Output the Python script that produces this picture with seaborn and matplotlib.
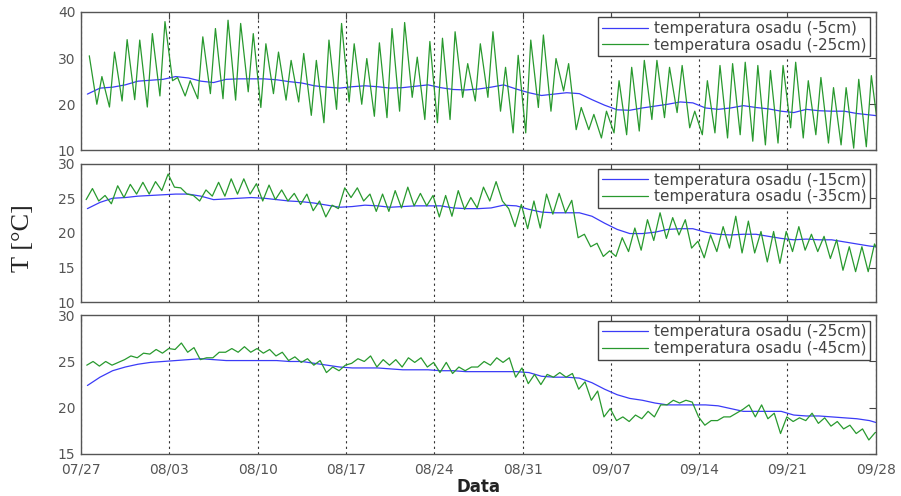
import numpy as np
import pandas as pd
import matplotlib
matplotlib.use("Agg")
import matplotlib.pyplot as plt
import matplotlib.dates as mdates
import seaborn as sns

nan = np.nan

# DANE (jedna wartosc na dobe; dzien 0 = 07/27)

start = pd.Timestamp("2009-07-27")
tick_labels = ["07/27", "08/03", "08/10", "08/17", "08/24",
               "08/31", "09/07", "09/14", "09/21", "09/28"]

labels_p1 = ["temperatura osadu (-5cm)", "temperatura osadu (-25cm)"]
labels_p2 = ["temperatura osadu (-15cm)", "temperatura osadu (-35cm)"]
labels_p3 = ["temperatura osadu (-25cm)", "temperatura osadu (-45cm)"]

# panel 1
p1_blue = [22.2, 23.5, 23.7, 24.2, 25.0, 25.2, 25.4,
           26.0, 25.7, 25.0, 24.7, 25.4, 25.5, 25.5,
           25.5, 25.3, 24.9, 24.6, 24.0, 23.7, 23.5,
           23.8, 24.0, 23.8, 23.5, 23.6, 23.9, 24.2,
           23.6, 23.2, 23.1, 23.3, 23.7, 24.2, 23.3,
           22.5, 21.9, 22.2, 22.5, 22.3, 21.0, 19.8,
           18.8, 18.7, 19.2, 19.6, 20.0, 20.5, 20.3,
           19.2, 18.9, 19.2, 19.7, 19.3, 19.0, 18.5,
           18.2, 18.9, 18.6, 18.5, 18.5, 18.0, 17.7,
           17.4]
p1_green_morning = [nan, 20.0, 19.4, 20.7, 21.0, 19.4, 21.8,
                    25.1, 21.8, 21.2, 22.3, 21.2, 20.9, 22.7,
                    19.3, 22.3, 20.9, 20.5, 17.6, 16.0, 18.9,
                    20.5, 20.0, 17.4, 17.1, 18.5, 21.5, 16.7,
                    16.0, 16.7, 21.5, 20.7, 21.5, 18.5, 13.8,
                    13.8, 19.3, 18.5, 22.9, 14.5, 14.5, 12.7,
                    13.8, 13.4, 14.2, 16.7, 17.1, 18.2, 14.9,
                    13.4, 13.8, 12.7, 13.4, 12.0, 11.2, 11.6,
                    14.9, 12.7, 13.4, 11.6, 11.2, 10.5, 10.8,
                    13.4]
p1_green_afternoon = [30.5, 26.0, 31.3, 34.0, 33.9, 35.3, 37.9,
                      25.8, 25.1, 34.6, 36.4, 38.2, 37.5, 35.3,
                      33.1, 31.3, 29.5, 31.0, 29.5, 33.9, 37.5,
                      33.1, 29.9, 33.3, 36.4, 37.7, 30.2, 33.6,
                      34.3, 35.7, 28.8, 33.1, 35.7, 28.0, 30.6,
                      33.9, 35.0, 29.9, 28.8, 19.3, 17.8, 18.5,
                      25.1, 28.0, 29.5, 29.5, 28.0, 28.4, 18.5,
                      25.1, 28.4, 28.8, 29.1, 28.4, 27.3, 28.4,
                      29.1, 25.1, 25.8, 23.6, 23.6, 25.4, 26.2,
                      nan]

# panel 2
p2_blue = [23.5, 24.4, 25.0, 25.1, 25.3, 25.4, 25.5,
           25.6, 25.6, 25.3, 24.8, 24.9, 25.0, 25.1,
           25.0, 24.8, 24.6, 24.5, 24.3, 24.0, 23.7,
           23.8, 24.0, 23.9, 23.7, 23.8, 23.9, 23.9,
           23.9, 23.6, 23.5, 23.5, 23.6, 24.0, 23.9,
           23.4, 23.0, 22.9, 22.9, 22.9, 22.4, 21.4,
           20.5, 19.9, 19.9, 20.1, 20.5, 20.6, 20.6,
           20.1, 19.8, 19.7, 19.8, 19.8, 19.5, 19.2,
           19.0, 19.1, 19.0, 19.0, 18.7, 18.4, 18.1,
           17.9]
p2_green_morning = [24.8, 24.6, 24.2, 25.1, 25.6, 25.6, 26.1,
                    26.6, 25.6, 24.6, 25.3, 25.3, 25.6, 25.6,
                    24.6, 24.8, 24.6, 24.1, 23.2, 22.3, 23.5,
                    25.1, 24.6, 23.1, 23.1, 23.6, 23.9, 23.9,
                    22.3, 22.4, 23.4, 23.6, 24.6, 24.6, 20.9,
                    20.6, 20.7, 22.7, 22.9, 19.3, 18.0, 16.6,
                    16.6, 17.3, 17.5, 18.9, 19.2, 19.7, 17.8,
                    16.4, 17.3, 17.8, 17.1, 17.1, 15.8, 15.6,
                    17.3, 17.5, 17.3, 16.3, 14.6, 14.4, 14.4,
                    16.6]
p2_green_afternoon = [26.4, 25.4, 26.8, 27.0, 27.3, 27.4, 28.5,
                      26.5, 25.4, 26.2, 27.3, 27.8, 27.8, 27.1,
                      26.9, 26.2, 25.7, 25.6, 24.6, 24.0, 26.5,
                      26.5, 25.6, 25.6, 26.1, 26.6, 25.7, 25.4,
                      25.4, 26.1, 25.1, 26.6, 27.4, 23.5, 24.1,
                      24.6, 25.6, 25.7, 24.7, 19.8, 18.5, 17.4,
                      19.3, 20.7, 21.9, 22.9, 22.2, 21.9, 18.8,
                      19.7, 20.9, 22.4, 21.7, 20.2, 20.2, 20.2,
                      20.9, 19.8, 19.5, 19.0, 18.0, 18.0, 18.4,
                      nan]

# panel 3
p3_blue = [22.4, 23.3, 24.0, 24.4, 24.7, 24.9, 25.0,
           25.1, 25.2, 25.3, 25.2, 25.1, 25.1, 25.1,
           25.1, 25.1, 25.0, 25.0, 24.8, 24.6, 24.4,
           24.3, 24.3, 24.3, 24.2, 24.1, 24.1, 24.1,
           24.0, 24.0, 23.9, 23.9, 23.9, 23.9, 23.9,
           23.8, 23.4, 23.3, 23.3, 23.2, 22.7, 22.0,
           21.4, 21.0, 20.8, 20.5, 20.3, 20.3, 20.3,
           20.3, 20.2, 19.9, 19.6, 19.6, 19.6, 19.6,
           19.2, 19.1, 19.1, 19.0, 18.9, 18.8, 18.6,
           18.2]
p3_green_morning = [24.6, 24.5, 24.6, 25.2, 25.4, 25.8, 25.9,
                    26.3, 26.0, 25.2, 25.4, 26.0, 26.0, 26.0,
                    25.9, 25.6, 25.1, 24.9, 24.6, 23.8, 24.0,
                    24.8, 25.0, 24.4, 24.6, 24.4, 24.9, 24.4,
                    23.8, 23.7, 24.0, 24.4, 24.6, 24.9, 23.3,
                    22.6, 22.5, 23.3, 23.3, 22.0, 20.8, 19.0,
                    18.6, 18.5, 18.8, 19.0, 20.3, 20.5, 20.6,
                    18.1, 18.6, 19.0, 19.8, 19.0, 18.8, 17.2,
                    18.5, 18.6, 18.3, 18.0, 17.7, 17.2, 16.5,
                    17.4]
p3_green_afternoon = [25.0, 25.0, 24.9, 25.6, 25.9, 26.3, 26.4,
                      27.0, 26.5, 25.4, 26.0, 26.4, 26.6, 26.4,
                      26.3, 26.0, 25.5, 25.3, 25.1, 24.4, 24.6,
                      25.3, 25.6, 25.2, 25.2, 25.4, 25.4, 24.9,
                      24.9, 24.4, 24.4, 25.0, 25.4, 25.4, 24.3,
                      23.6, 23.6, 23.8, 23.7, 22.8, 21.8, 19.9,
                      19.0, 19.2, 19.6, 20.3, 20.8, 20.8, 19.0,
                      18.6, 19.0, 19.4, 20.3, 20.3, 19.4, 19.0,
                      18.9, 19.4, 18.9, 18.5, 18.1, 17.7, 17.3,
                      nan]

# pora odczytu w ciagu doby (ulamek dnia)
blue_hour = 0.5
green_hours = [(0.25, 0.65), (0.40, 0.90), (0.45, 0.95)]

y_limits = [(10, 40), (10, 30), (15, 30)]
y_ticks = [[10, 20, 30, 40], [10, 15, 20, 25, 30], [15, 20, 25, 30]]


# RAMKA DANYCH

def seria(values, offset, label):
    days = np.arange(len(values)) + offset
    return pd.DataFrame({
        "czas": start + pd.to_timedelta(days, unit="D"),
        "temp": values,
        "seria": label,
    })


def panel_df(blue, morning, afternoon, hours, labels):
    green = pd.concat([seria(morning, hours[0], labels[1]),
                       seria(afternoon, hours[1], labels[1])])
    green = green.sort_values("czas")
    df = pd.concat([seria(blue, blue_hour, labels[0]), green])
    return df.dropna()


panele = [
    panel_df(p1_blue, p1_green_morning, p1_green_afternoon, green_hours[0], labels_p1),
    panel_df(p2_blue, p2_green_morning, p2_green_afternoon, green_hours[1], labels_p2),
    panel_df(p3_blue, p3_green_morning, p3_green_afternoon, green_hours[2], labels_p3),
]
etykiety = [labels_p1, labels_p2, labels_p3]


# WYKRES

sns.set_style("white")
plt.rcParams["font.family"] = ["DejaVu Sans"]

fig, axes = plt.subplots(3, 1, figsize=(9.01, 4.96), dpi=100, sharex=True)
fig.subplots_adjust(left=0.09, right=0.972, top=0.976, bottom=0.085, hspace=0.095)

ticks = [start + pd.Timedelta(days=7 * i) for i in range(len(tick_labels))]

for ax, df, labs, ylim, yt in zip(axes, panele, etykiety, y_limits, y_ticks):

    sns.lineplot(
        data=df, x="czas", y="temp", hue="seria",
        hue_order=labs,
        palette={labs[0]: "#3b3bf7", labs[1]: "#28992e"},
        estimator=None, sort=True, linewidth=0.9, ax=ax,
    )

    ax.set_xlim(start, start + pd.Timedelta(days=63))
    ax.set_ylim(*ylim)
    ax.set_yticks(yt)
    ax.set_xticks(ticks)
    ax.xaxis.set_major_formatter(mdates.DateFormatter("%m/%d"))
    ax.set_xlabel("")
    ax.set_ylabel("")

    ax.grid(axis="x", linestyle=(0, (2, 3)), color="#333333", linewidth=0.8)
    ax.grid(axis="y", visible=False)

    ax.tick_params(direction="in", top=True, right=True, length=5,
                   width=0.8, color="#444444", labelcolor="#555555",
                   labelsize=10, pad=4)
    ax.tick_params(axis="x", pad=6)
    for s in ax.spines.values():
        s.set_color("#555555")
        s.set_linewidth(1.0)

    leg = ax.legend(loc="upper right", fontsize=11, frameon=True,
                    fancybox=False, framealpha=1, edgecolor="#444444",
                    handlelength=3.0, borderaxespad=0.35, borderpad=0.25,
                    labelspacing=0.1, handletextpad=0.4)
    leg.get_frame().set_linewidth(1.0)
    for t in leg.get_texts():
        t.set_color("#444444")

axes[2].set_xlabel("Data", fontsize=12, fontweight="bold", color="#222222", labelpad=1)

fig.text(0.026, 0.52, "T [°C]", rotation=90, ha="center", va="center",
         fontsize=19, family=["Liberation Serif", "DejaVu Serif"])

fig.savefig("out.png", dpi=100)
